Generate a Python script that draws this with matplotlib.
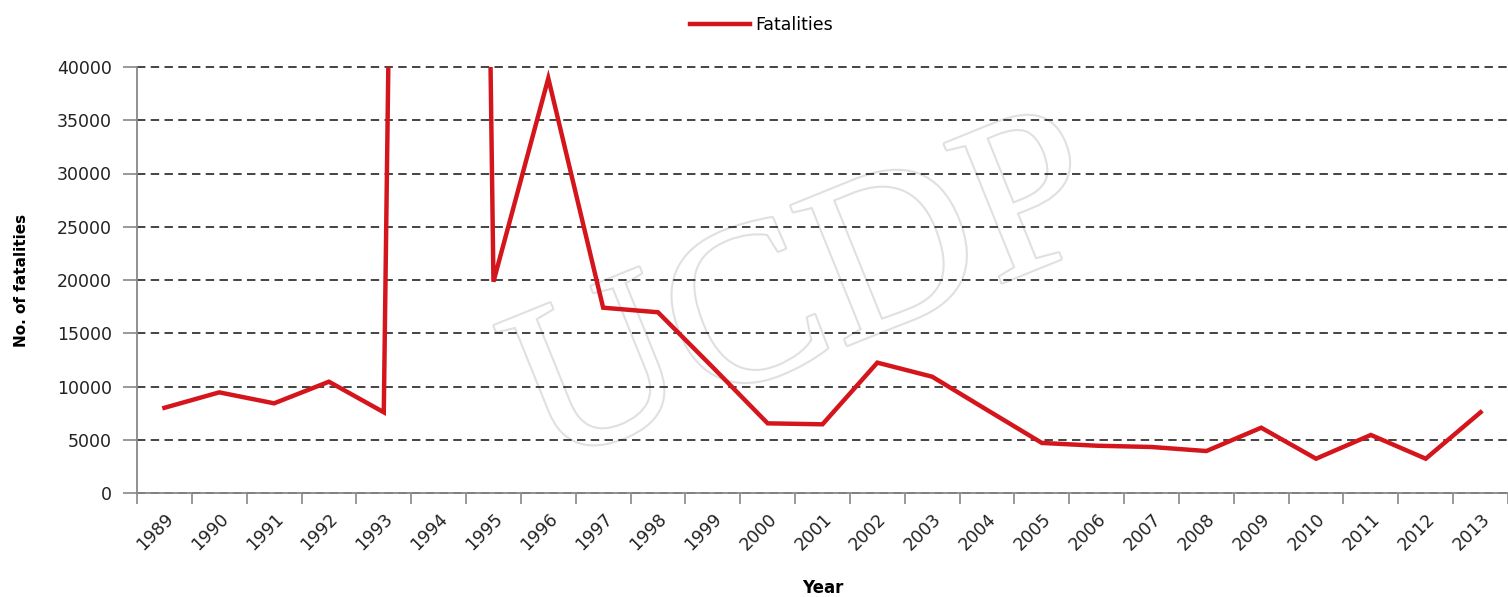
import matplotlib
matplotlib.use('Agg')
import matplotlib.pyplot as plt
import matplotlib.patheffects as pe
import numpy as np

# 데이터 (UCDP fatalities, 1994 값은 차트 밖으로 나감)
years = ['1989', '1990', '1991', '1992', '1993', '1994', '1995', '1996', '1997',
         '1998', '1999', '2000', '2001', '2002', '2003', '2004', '2005', '2006',
         '2007', '2008', '2009', '2010', '2011', '2012', '2013']
fatalities = [8000, 9450, 8420, 10450, 7580, 400000, 19840, 38940, 17400,
              16970, 11800, 6540, 6450, 12240, 10920, 7800, 4700, 4440,
              4320, 3940, 6130, 3220, 5450, 3220, 7580]
y_ticks = [0, 5000, 10000, 15000, 20000, 25000, 30000, 35000, 40000]

plt.rcParams['font.family'] = ['DejaVu Sans']

fig = plt.figure(figsize=(15.08, 5.97), dpi=100)
ax = fig.add_axes([137 / 1508, 1 - 493 / 597, 1 - 137 / 1508, (493 - 67) / 597])

x = np.arange(len(years))

# 워터마크
ax.text(0.49, 0.45, 'UCDP', transform=ax.transAxes, fontsize=165,
        family='Liberation Serif', color='white', rotation=22,
        ha='center', va='center', zorder=0,
        path_effects=[pe.withStroke(linewidth=3, foreground='#e0e0e0')])

ax.plot(x, fatalities, color='#d4161c', linewidth=3.2, label='Fatalities',
        zorder=3, solid_joinstyle='miter')

ax.set_xlim(-0.5, len(years) - 0.5)
ax.set_ylim(0, 40000)
ax.set_yticks(y_ticks)
ax.set_yticklabels([str(v) for v in y_ticks], fontsize=12.5, color='#222222')
ax.yaxis.grid(True, linestyle=(0, (5.5, 3.5)), color='#111111', linewidth=1.1)
for gl in ax.yaxis.get_gridlines():
    gl.set_clip_on(False)
ax.set_axisbelow(True)

# 카테고리 경계에 눈금, 중앙에 라벨
ax.set_xticks(np.arange(-0.5, len(years), 1.0))
ax.set_xticklabels([])
ax.set_xticks(x, minor=True)
ax.set_xticklabels(years, minor=True, rotation=45, ha='right',
                   rotation_mode='anchor', fontsize=12.5, color='#222222')
ax.tick_params(axis='x', which='major', length=8, color='#888888', width=1.2)
ax.tick_params(axis='x', which='minor', length=0, pad=12)
ax.tick_params(axis='y', length=10, color='#888888', width=1.2, pad=8)

for s in ['top', 'right']:
    ax.spines[s].set_visible(False)
for s in ['left', 'bottom']:
    ax.spines[s].set_color('#888888')
    ax.spines[s].set_linewidth(1.3)

ax.set_ylabel('No. of fatalities', fontsize=11, fontweight='bold', labelpad=20)
ax.set_xlabel('Year', fontsize=12, fontweight='bold', labelpad=18)

fig.legend(loc='upper center', bbox_to_anchor=(0.505, 1.0), frameon=False,
           fontsize=12.5, handlelength=3.5, handletextpad=0.3)

fig.savefig('out.png', dpi=100)
